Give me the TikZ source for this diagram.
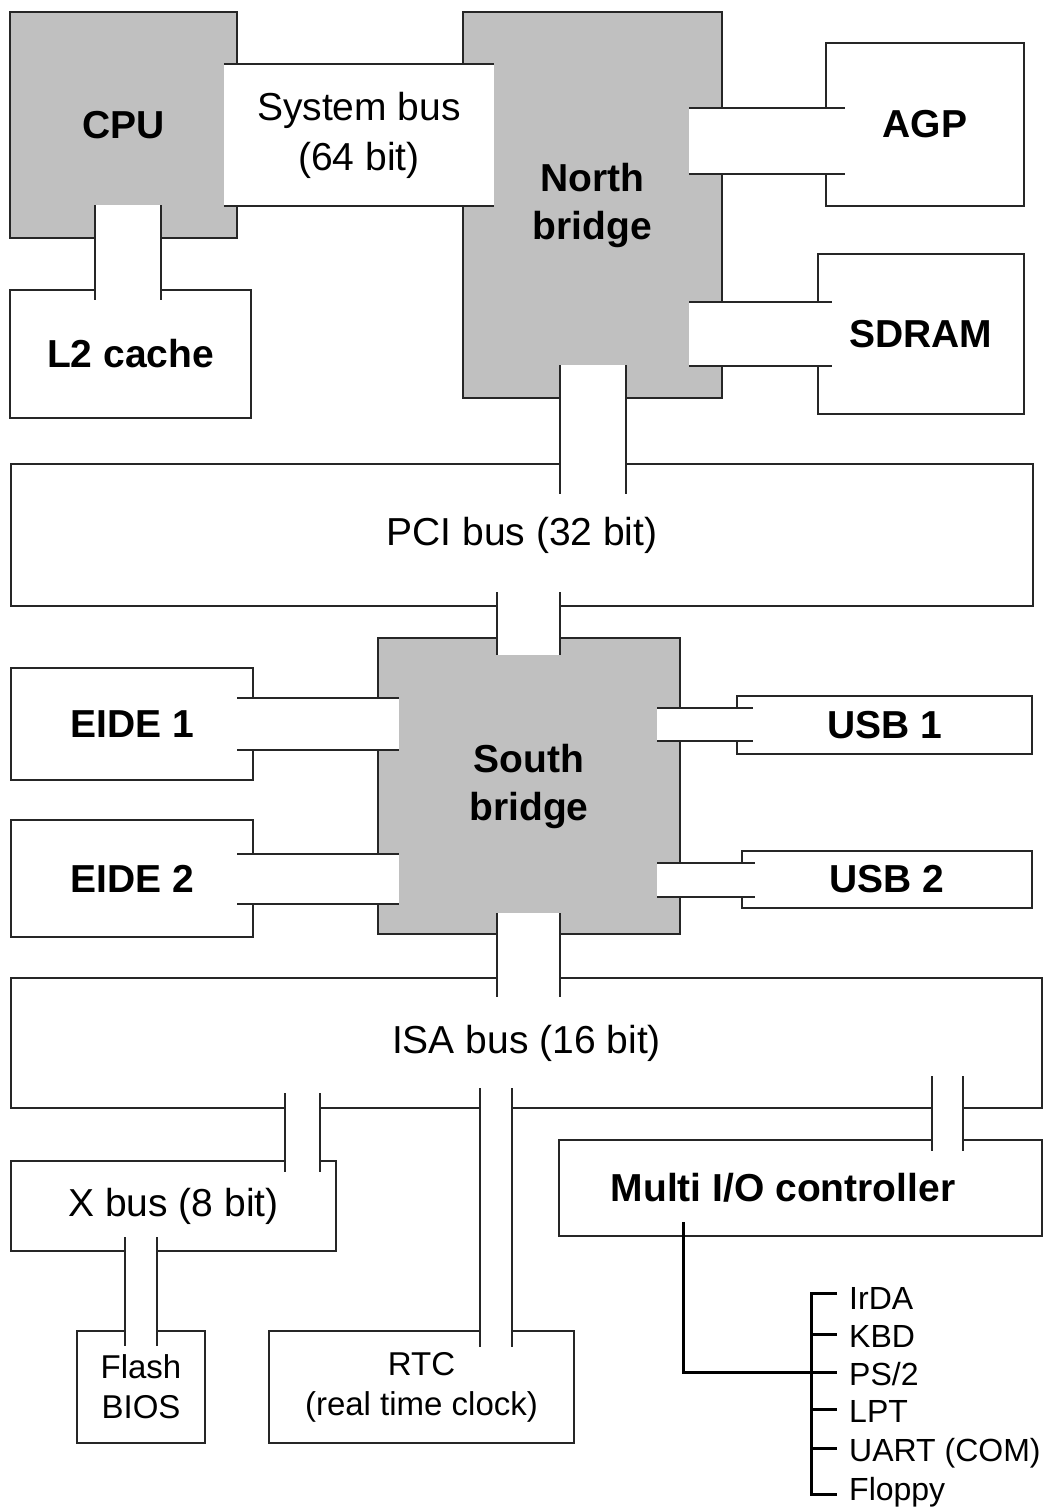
\documentclass[tikz,border=0pt]{standalone}
\usepackage{fontspec}
\setmainfont{Liberation Sans}
\definecolor{chip}{HTML}{C0C0C0}
\newcommand\bx[7]{\node[#6, minimum width={#4-#2}, minimum height={#5-#3}] (#1) at ({(#2+#4)/2},{(#3+#5)/2}) {#7};}
\newcommand\hconn[4]{\fill[white] (#1,#3) rectangle (#2,#4); \draw[wire] (#1,#3) -- (#2,#3) (#1,#4) -- (#2,#4);}
\newcommand\vconn[4]{\fill[white] (#1,#3) rectangle (#2,#4); \draw[wire] (#1,#3) -- (#1,#4) (#2,#3) -- (#2,#4);}
\begin{document}
\begin{tikzpicture}[x=1pt,y=-1pt,
  wire/.style={draw=black!85,line width=2pt},
  blk/.style={draw=black!85,line width=2pt,fill=white,inner sep=0pt,align=center,font=\fontsize{39}{49}\selectfont},
  boldtxt/.style={font=\fontsize{39}{48}\selectfont\bfseries},
  smalltxt/.style={font=\fontsize{33}{40}\selectfont},
  tree/.style={draw=black,line width=3pt},
  port/.style={anchor=west,inner sep=0pt,text height=23pt,text depth=0pt,font=\fontsize{32}{38}\selectfont}]
\useasboundingbox (0,0) rectangle (1043,1508);
\fill[white] (0,0) rectangle (1043,1508);
% blocks
\bx{cpu}{10}{12}{237}{238}{blk,fill=chip,boldtxt}{CPU}
\bx{l2}{10}{290}{251}{418}{blk,boldtxt}{L2 cache}
\bx{nb}{463}{12}{722}{398}{blk,fill=chip,boldtxt}{North\\bridge}
\bx{agp}{826}{43}{1024}{206}{blk,boldtxt}{AGP}
\bx{sdram}{818}{254}{1024}{414}{blk,boldtxt}{SDRAM}
\bx{pci}{11}{464}{1033}{606}{blk}{PCI bus (32 bit)}
\bx{sb}{378}{638}{680}{934}{blk,fill=chip,boldtxt}{South\\bridge}
\bx{eide1}{11}{668}{253}{780}{blk,boldtxt}{EIDE 1}
\bx{eide2}{11}{820}{253}{937}{blk,boldtxt}{EIDE 2}
\bx{usb1}{737}{696}{1032}{754}{blk,boldtxt}{USB 1}
\bx{usb2}{742}{851}{1032}{908}{blk,boldtxt}{USB 2}
\bx{isa}{11}{978}{1042}{1108}{blk}{ISA bus (16 bit)}
\bx{xbus}{11}{1161}{336}{1251}{blk}{X bus (8 bit)}
\bx{flash}{77}{1331}{205}{1443}{blk,smalltxt}{Flash\\BIOS}
\bx{rtc}{269}{1331}{574}{1443}{blk,smalltxt}{RTC\\(real time clock)}
\bx{mio}{559}{1140}{1042}{1236}{blk}{}
\node[boldtxt] (miolbl) at (783,1188) {Multi I/O controller};
% system bus
\node[fill=white,inner sep=0pt,minimum width=270pt,minimum height=142pt,align=center,font=\fontsize{39}{50}\selectfont] (sysbus) at (359,135) {System bus\\(64 bit)};
\draw[wire] (sysbus.north west) -- (sysbus.north east) (sysbus.south west) -- (sysbus.south east);
% bus connectors
\vconn{95}{161}{205}{300}
\hconn{689}{845}{108}{174}
\hconn{689}{832}{302}{366}
\vconn{560}{626}{365}{494}
\vconn{497}{560}{592}{655}
\hconn{237}{399}{698}{750}
\hconn{237}{399}{854}{904}
\hconn{657}{753}{708}{741}
\hconn{657}{755}{863}{897}
\vconn{497}{560}{913}{997}
\vconn{285}{320}{1093}{1172}
\vconn{480}{512}{1088}{1347}
\vconn{932}{963}{1076}{1151}
\vconn{125}{157}{1237}{1346}
% I/O tree
\draw[tree] (683,1222) |- (811,1372);
\draw[tree] (837,1293) -| (811,1494) -- (837,1494);
\foreach \yy in {1334,1372,1409,1448} \draw[tree] (811,\yy) -- (837,\yy);
\node[port] (irda) at (849,1298) {IrDA};
\node[port] (kbd) at (849,1336) {KBD};
\node[port] (ps2) at (849,1374) {PS/2};
\node[port] (lpt) at (849,1411) {LPT};
\node[port] (uart) at (849,1450) {UART (COM)};
\node[port] (floppy) at (849,1489) {Floppy};
\end{tikzpicture}
\end{document}
